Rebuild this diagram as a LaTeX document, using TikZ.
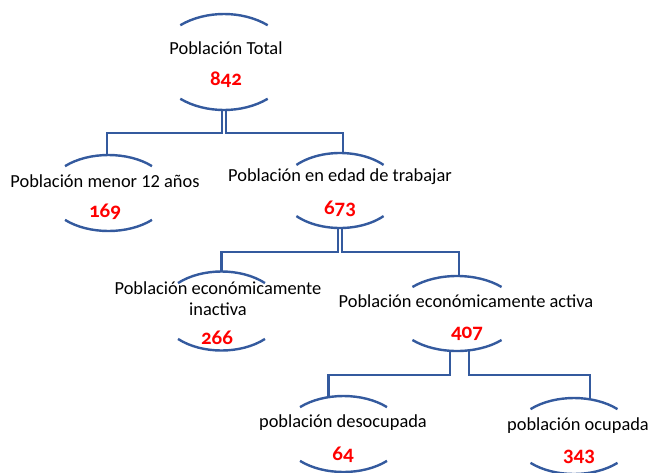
\documentclass[tikz,border=0pt]{standalone}
\usepackage{fontspec}
\setmainfont{Carlito}
\newfontfamily\cifrafont[Numbers=OldStyle]{Carlito}
\usetikzlibrary{shapes.geometric}
\definecolor{azul}{RGB}{52,90,158}
\tikzset{x=1pt, y=1pt, % one unit is one pixel of the picture
arco/.style={draw=azul, line width=2.4pt}, % the two arcs round each group
conector/.style={draw=azul, line width=2.4pt}, % elbow lines between the groups
grupo/.style 2 args={ellipse, inner sep=0pt, minimum width=2*#1, minimum height=2*#2}, % hidden oval of a group
texto/.style={font=\fontsize{18.4}{21.5}\selectfont, align=center}, % name of a group
cifra/.style={font=\cifrafont\bfseries\fontsize{21}{25}\selectfont, text=red}, % number of people
}
% top and bottom arc of a group: node, x radius, y radius, angle where the arc stops
\newcommand{\arcos}[4]{%
\draw[arco] (#1.center) ++(180-#4:#2pt and #3pt) arc[start angle=180-#4, end angle=#4, x radius=#2pt, y radius=#3pt];
\draw[arco] (#1.center) ++(180+#4:#2pt and #3pt) arc[start angle=180+#4, end angle=360-#4, x radius=#2pt, y radius=#3pt];
}

\begin{document}
\begin{tikzpicture}
\useasboundingbox (0,0) rectangle (652,-472);
% groups
\node[grupo={68}{48}] (tot) at (224,-62) {};
\node[grupo={61.5}{38}] (men) at (108.5,-193) {};
\node[grupo={59.6}{37.5}] (eda) at (340,-190.5) {};
\node[grupo={61.5}{39.5}] (ina) at (221.5,-311) {};
\node[grupo={63}{37.5}] (act) at (457,-313.5) {};
\node[grupo={61.5}{38}] (des) at (343.5,-434) {};
\node[grupo={61.5}{38}] (ocu) at (574,-436) {};
\arcos{tot}{68}{48}{50}
\arcos{men}{61.5}{38}{45}
\arcos{eda}{59.6}{37.5}{43}
\arcos{ina}{61.5}{39.5}{45}
\arcos{act}{63}{37.5}{45}
\arcos{des}{61.5}{38}{45}
\arcos{ocu}{61.5}{38}{45}
% names and numbers
\node[texto] (totT) at (226,-48) {Población Total};
\node[cifra] (totN) at (226,-80) {842};
\node[texto] (menT) at (105,-181) {Población menor 12 años};
\node[cifra] (menN) at (105,-212) {169};
\node[texto] (edaT) at (340,-177) {Población en edad de trabajar};
\node[cifra] (edaN) at (340,-209) {673};
\node[texto] (inaT) at (218,-298.5) {Población económicamente\\inactiva};
\node[cifra] (inaN) at (217,-338) {266};
\node[texto] (actT) at (466,-301) {Población económicamente activa};
\node[cifra] (actN) at (467,-334) {407};
\node[texto] (desT) at (343,-423) {población desocupada};
\node[cifra] (desN) at (343,-455) {64};
\node[texto] (ocuT) at (578,-426) {población ocupada};
\node[cifra] (ocuN) at (579,-457) {343};
% connectors
\draw[conector] ([xshift=-2pt]tot.south) -- ++(0,-23) -| ([xshift=-1.5pt]men.north);
\draw[conector] ([xshift=2pt]tot.south) -- ++(0,-23) -| ([xshift=3pt]eda.north);
\draw[conector] ([xshift=-2pt]eda.south) -- ++(0,-24) -| (ina.north);
\draw[conector] ([xshift=2pt]eda.south) -- ++(0,-24) -| ([xshift=2pt]act.north);
\draw[conector] ([xshift=-7pt]act.south) -- ++(0,-24) -| ([xshift=-15pt]des.north);
\draw[conector] ([xshift=12pt]act.south) -- ++(0,-24) -| ([xshift=16pt]ocu.north);
\end{tikzpicture}
\end{document}
